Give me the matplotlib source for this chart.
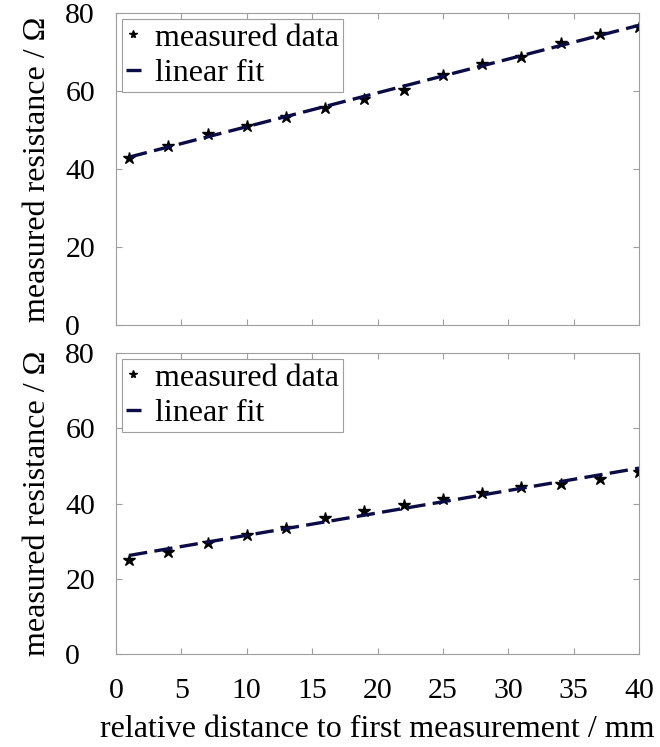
import numpy as np
import matplotlib.pyplot as plt

# distance in mm, resistance in Ohm
distance = [1, 4, 7, 10, 13, 16, 19, 22, 25, 28, 31, 34, 37, 40]
r_top = [42.9, 46.0, 49.0, 50.9, 53.3, 55.6, 58.0, 60.3, 64.1, 66.9, 68.8, 72.4, 74.6, 76.5]
r_bottom = [25.0, 27.2, 29.6, 31.5, 33.5, 36.1, 38.0, 39.6, 41.2, 42.7, 44.5, 45.2, 46.5, 48.5]

xticks = [0, 5, 10, 15, 20, 25, 30, 35, 40]
yticks = [0, 20, 40, 60, 80]

plt.rcParams['font.family'] = ['Liberation Serif', 'DejaVu Serif']
fs = 21.5      # tick labels
fs_lab = 23    # axis labels and legend
grey = '0.62'
navy = '#0b0b45'

fig = plt.figure(figsize=(6.6, 7.47), dpi=100)
ax1 = fig.add_axes([116/660, 1-325/747, 523/660, 312/747])
ax2 = fig.add_axes([116/660, 1-654/747, 523/660, 301/747])

for ax, r in [(ax1, r_top), (ax2, r_bottom)]:
    x = np.array(distance, dtype=float)
    k, d = np.polyfit(x, r, 1)
    ax.plot(x, r, ls='none', marker='*', ms=9, color='k', label='measured data')
    line, = ax.plot(x, k*x + d, color=navy, lw=2.4, label='linear fit')
    line.set_dashes((5.5, 2.2))
    ax.set_xlim(0, 40)
    ax.set_ylim(0, 80)
    ax.set_xticks(xticks)
    ax.set_yticks(yticks)
    ax.tick_params(direction='in', top=True, right=True, color=grey,
                   length=4, width=0.8, labelsize=fs)
    ax.tick_params(axis='x', pad=17)
    ax.tick_params(axis='y', pad=36.5)
    for lbl in ax.get_yticklabels():
        lbl.set_ha('left')
        lbl.set_va('center_baseline')
    for s in ax.spines.values():
        s.set_color(grey)
        s.set_linewidth(0.8)
    ax.set_ylabel('measured resistance / Ω', fontsize=fs_lab)
    ax.yaxis.set_label_coords(-0.123, 0.5)
    leg = ax.legend(loc='upper left', fontsize=fs_lab, handlelength=0.45,
                    handletextpad=0.45, markerscale=0.65, borderpad=0.12,
                    labelspacing=0.2, borderaxespad=0.2, fancybox=False,
                    framealpha=1)
    leg.get_frame().set_edgecolor(grey)
    leg.get_frame().set_linewidth(0.8)

ax1.tick_params(labelbottom=False)
ax2.set_xlabel('relative distance to first measurement / mm', fontsize=fs_lab, labelpad=8)

fig.savefig('out.png', dpi=100)
